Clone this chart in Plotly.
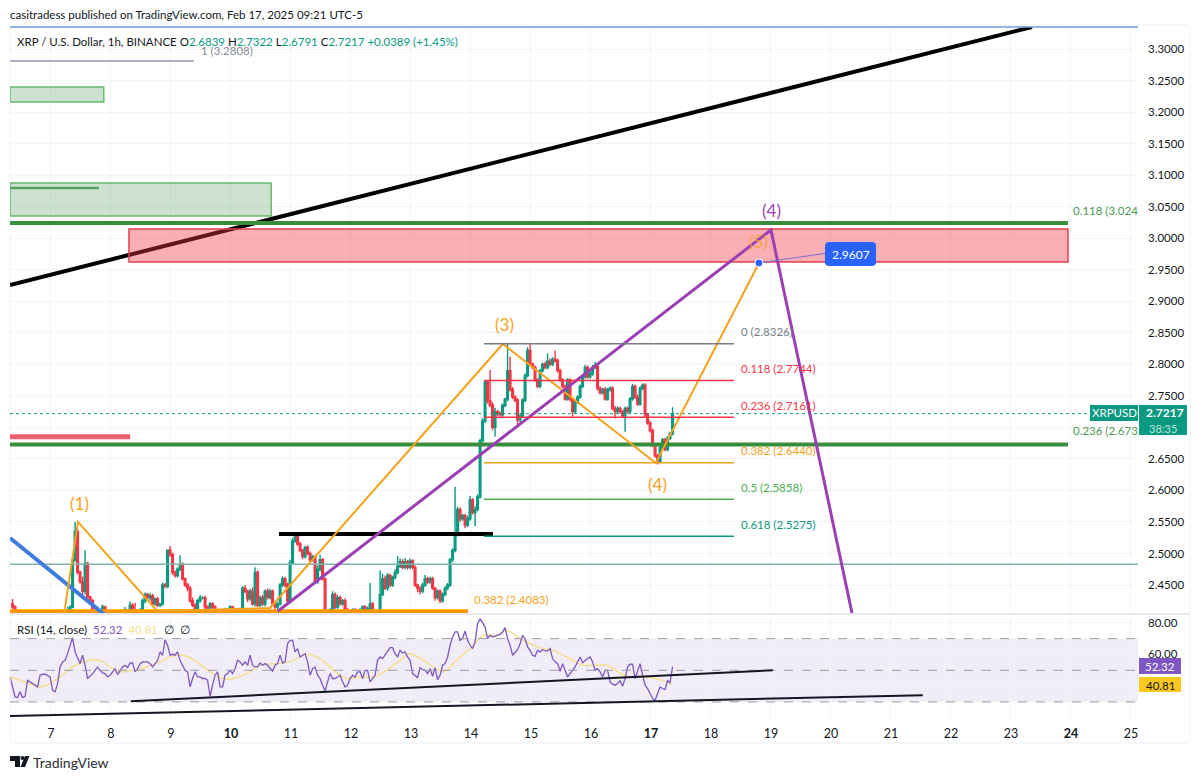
import plotly.graph_objects as go

# hourly XRPUSD candles, newest bar sits at day 17.36
last_bar_day = 17.36
first_open = 2.420
candle_close = [
    2.415, 2.408, 2.395, 2.385, 2.370, 2.375, 2.360, 2.365, 2.350, 2.360,
    2.355, 2.370, 2.365, 2.380, 2.375, 2.390, 2.380, 2.385, 2.390, 2.395,
    2.390, 2.400, 2.410, 2.415, 2.490, 2.535, 2.470, 2.455, 2.440, 2.484,
    2.431, 2.425, 2.405, 2.390, 2.395, 2.405, 2.415, 2.400, 2.390, 2.385,
    2.380, 2.390, 2.385, 2.375, 2.395, 2.410, 2.405, 2.418, 2.410, 2.402,
    2.405, 2.410, 2.425, 2.435, 2.430, 2.433, 2.420, 2.428, 2.418, 2.420,
    2.450, 2.448, 2.505, 2.498, 2.470, 2.465, 2.475, 2.483, 2.460, 2.450,
    2.445, 2.425, 2.418, 2.405, 2.425, 2.430, 2.430, 2.415, 2.410, 2.420,
    2.415, 2.402, 2.395, 2.400, 2.395, 2.410, 2.405, 2.415, 2.405, 2.410,
    2.402, 2.410, 2.445, 2.440, 2.428, 2.440, 2.420, 2.470, 2.418, 2.430,
    2.420, 2.440, 2.430, 2.440, 2.420, 2.415, 2.420, 2.450, 2.460, 2.450,
    2.425, 2.485, 2.520, 2.530, 2.515, 2.505, 2.495, 2.510, 2.500, 2.490,
    2.495, 2.455, 2.475, 2.490, 2.460, 2.400, 2.390, 2.410, 2.435, 2.415,
    2.430, 2.420, 2.425, 2.410, 2.405, 2.402, 2.410, 2.405, 2.402, 2.410,
    2.415, 2.405, 2.412, 2.420, 2.405, 2.400, 2.405, 2.435, 2.460, 2.445,
    2.465, 2.450, 2.462, 2.470, 2.480, 2.487, 2.478, 2.487, 2.478, 2.488,
    2.478, 2.450, 2.445, 2.440, 2.450, 2.460, 2.455, 2.460, 2.445, 2.430,
    2.440, 2.425, 2.435, 2.445, 2.450, 2.490, 2.505, 2.530, 2.570, 2.555,
    2.560, 2.545, 2.555, 2.585, 2.565, 2.570, 2.590, 2.679, 2.710, 2.772,
    2.742, 2.735, 2.700, 2.725, 2.722, 2.720, 2.735, 2.745, 2.790, 2.760,
    2.748, 2.743, 2.712, 2.718, 2.743, 2.782, 2.822, 2.800, 2.795, 2.775,
    2.765, 2.790, 2.800, 2.795, 2.805, 2.800, 2.808, 2.806, 2.790, 2.775,
    2.765, 2.745, 2.775, 2.745, 2.725, 2.740, 2.748, 2.765, 2.780, 2.795,
    2.780, 2.785, 2.795, 2.797, 2.762, 2.755, 2.760, 2.745, 2.760, 2.762,
    2.730, 2.725, 2.730, 2.725, 2.718, 2.730, 2.725, 2.745, 2.765, 2.748,
    2.737, 2.762, 2.767, 2.720, 2.707, 2.695, 2.672, 2.655, 2.646, 2.668,
    2.680, 2.665, 2.683, 2.690, 2.7217,
]
# wick lengths above / below the body, in thousandths of a dollar
wick_up = [
    8, 3, 2, 2, 3, 2, 2, 3, 2, 3,
    2, 3, 4, 2, 3, 2, 3, 2, 2, 3,
    3, 2, 5, 3, 3, 15, 4, 3, 8, 21,
    3, 2, 3, 2, 3, 2, 4, 2, 3, 2,
    2, 3, 2, 3, 4, 5, 2, 6, 3, 12,
    3, 3, 4, 3, 2, 4, 3, 2, 3, 2,
    4, 3, 0, 7, 3, 3, 3, 14, 3, 2,
    3, 3, 5, 3, 3, 4, 2, 3, 3, 3,
    3, 3, 2, 3, 10, 4, 3, 3, 2, 4,
    3, 4, 3, 5, 3, 4, 6, 8, 3, 3,
    4, 3, 5, 4, 3, 3, 4, 3, 4, 3,
    4, 5, 4, 3, 3, 3, 2, 2, 3, 3,
    3, 3, 6, 8, 3, 2, 3, 3, 5, 3,
    4, 3, 3, 4, 4, 3, 3, 4, 3, 3,
    3, 3, 4, 33, 3, 3, 4, 38, 8, 5,
    4, 3, 3, 5, 16, 5, 4, 6, 3, 4,
    3, 3, 2, 3, 4, 6, 3, 3, 3, 2,
    3, 3, 3, 3, 3, 3, 3, 76, 4, 3,
    3, 3, 5, 6, 3, 5, 4, 3, 4, 3,
    3, 49, 5, 6, 3, 3, 3, 2, 43, 22,
    4, 3, 3, 4, 3, 4, 5, 11, 3, 3,
    3, 3, 3, 4, 12, 4, 3, 14, 3, 3,
    3, 3, 3, 3, 3, 3, 3, 3, 3, 4,
    3, 4, 4, 7, 3, 3, 3, 4, 3, 3,
    3, 4, 3, 3, 3, 3, 3, 3, 4, 3,
    4, 3, 3, 3, 3, 3, 3, 3, 3, 3,
    3, 3, 3, 3, 10,
]
wick_down = [
    3, 3, 3, 3, 2, 3, 3, 2, 3, 2,
    3, 2, 2, 3, 2, 3, 2, 3, 3, 2,
    3, 3, 3, 4, 2, 3, 3, 3, 8, 5,
    3, 3, 6, 3, 3, 3, 3, 2, 3, 3,
    3, 2, 3, 3, 3, 3, 3, 3, 3, 3,
    3, 3, 3, 4, 3, 5, 3, 3, 3, 3,
    3, 3, 3, 3, 4, 3, 3, 3, 3, 3,
    5, 3, 3, 3, 3, 3, 3, 3, 3, 3,
    3, 2, 3, 3, 4, 3, 3, 2, 3, 3,
    3, 4, 3, 3, 5, 3, 3, 4, 3, 3,
    3, 4, 3, 3, 3, 4, 3, 3, 3, 4,
    3, 4, 3, 3, 3, 3, 4, 3, 3, 3,
    3, 4, 3, 3, 3, 3, 3, 4, 3, 3,
    3, 3, 3, 3, 4, 3, 3, 3, 3, 3,
    3, 3, 3, 3, 3, 4, 3, 3, 3, 3,
    4, 3, 3, 3, 3, 3, 3, 3, 4, 3,
    3, 3, 6, 5, 3, 3, 4, 3, 3, 5,
    3, 4, 3, 3, 3, 3, 3, 3, 3, 5,
    3, 5, 3, 3, 3, 22, 3, 3, 3, 3,
    4, 3, 5, 15, 4, 3, 3, 3, 4, 3,
    3, 3, 11, 4, 3, 3, 3, 3, 3, 3,
    3, 3, 3, 3, 3, 3, 3, 3, 3, 3,
    3, 3, 3, 4, 8, 3, 3, 3, 3, 3,
    3, 3, 3, 3, 4, 3, 3, 3, 3, 3,
    3, 11, 3, 3, 3, 25, 3, 3, 3, 3,
    3, 3, 3, 4, 3, 3, 3, 3, 5, 3,
    3, 3, 3, 3, 3,
]

# RSI(14) line, one reading per hour
rsi_values = [
    45.8, 38.5, 33.2, 32.8, 36.4, 32.8, 33.6, 43.7, 42.7, 41.6, 40.6, 39.5, 46.9, 47.5, 47.5,
    46.9, 45.8, 37.4, 36.4, 41.6, 52.1, 55.3, 56.3, 60.5, 65.8, 70.6, 61.6, 58.4, 54.2, 59.5,
    53.2, 44.8, 46.2, 47.9, 50.0, 52.1, 50.0, 48.3, 47.9, 45.8, 46.9, 49.0, 51.0, 47.3, 50.0,
    52.1, 53.2, 51.7, 54.6, 54.6, 49.0, 51.0, 54.2, 55.3, 55.3, 55.3, 54.2, 52.1, 54.2, 56.3,
    61.6, 59.5, 69.3, 65.8, 59.5, 60.1, 59.5, 61.6, 56.3, 53.2, 50.0, 49.0, 39.5, 44.8, 49.0,
    45.8, 45.8, 44.8, 44.8, 43.7, 33.6, 40.6, 46.9, 49.0, 39.5, 39.5, 46.9, 47.9, 50.0, 47.9,
    51.0, 56.3, 55.3, 53.2, 55.3, 53.2, 59.5, 53.2, 52.1, 52.1, 54.6, 53.2, 54.2, 53.2, 51.0,
    49.4, 53.2, 54.2, 59.5, 54.6, 55.3, 66.8, 68.9, 68.9, 61.6, 63.7, 58.4, 59.5, 60.5, 55.3,
    46.9, 51.0, 52.1, 46.9, 44.8, 40.6, 36.8, 42.7, 47.9, 44.8, 44.8, 45.8, 46.9, 42.7, 39.5,
    40.6, 44.8, 46.9, 45.8, 49.0, 49.0, 44.8, 50.0, 50.0, 42.7, 44.8, 46.9, 56.3, 58.4, 57.4,
    59.5, 61.6, 64.3, 64.3, 60.5, 58.4,
    62.6, 60.9, 61.6, 58.4, 56.3, 47.9, 46.9, 45.4, 51.7, 50.4, 50.0, 47.9, 51.0, 46.2, 51.7,
    44.1, 46.9, 53.2, 54.2, 58.4, 65.8, 71.0, 74.2, 74.2, 68.9, 70.0, 74.8, 68.9, 65.8, 63.7,
    67.9, 79.4, 82.6, 79.8, 77.3, 70.0, 72.0, 71.0, 71.4, 72.0, 72.7, 74.2, 76.9, 70.0, 65.8,
    59.5, 61.6, 63.0, 66.8, 72.0, 70.0, 64.7, 62.6, 59.5, 58.8, 62.6, 61.6, 63.0, 62.2, 62.2,
    63.7, 57.4, 55.3, 54.2, 49.4, 54.2, 50.0, 45.8, 47.9, 50.0, 52.1, 55.3, 58.4, 54.8, 56.3,
    57.4, 58.4, 55.3, 50.0, 51.0, 49.0, 45.8, 50.0, 50.0, 42.7, 41.2, 40.6, 41.6, 43.3, 39.9,
    44.8, 52.1, 53.8, 53.8, 44.8, 50.0, 54.2, 46.9, 40.6, 38.5, 35.3, 32.2, 31.1, 35.3, 39.5,
    38.5, 37.8, 43.7, 42.0, 52.32,
]
rsi_ma_days = [
    6.33, 6.48, 6.65, 6.82, 6.98, 7.15, 7.32, 7.48, 7.65, 7.82, 7.98, 8.15, 8.37, 8.59, 8.82, 8.98, 9.21,
    9.43, 9.65, 9.87, 10.04, 10.26, 10.48, 10.76, 10.98, 11.26, 11.48, 11.71, 11.93, 12.15, 12.37, 12.59, 12.82,
    12.98, 13.21, 13.54, 13.76, 14.01, 14.21, 14.43, 14.59, 14.87, 15.15, 15.37, 15.59, 15.87, 16.26, 16.59,
    16.93, 17.15, 17.36,
]
rsi_ma_values = [
    45.8, 43.7, 41.6, 39.5, 41.6, 45.8, 51.0, 54.6, 56.3, 56.3, 52.1, 49.0, 50.0, 52.1, 55.3, 58.4, 59.5,
    55.3, 49.0, 44.8, 44.8, 47.9, 53.2, 54.2, 55.3, 60.1, 57.4, 50.0, 44.8, 45.8, 45.8, 50.0, 56.3,
    60.5, 56.3, 49.0, 56.3, 64.7, 72.0, 72.0, 75.2, 68.9, 64.3, 62.6, 58.4, 53.2, 53.2, 46.2,
    45.8, 44.1, 40.81,
]

day_ticks = [7, 8, 9, 10, 11, 12, 13, 14, 15, 16, 17, 18, 19, 20, 21, 22, 23, 24, 25]
day_labels = ["7", "8", "9", "<b>10</b>", "11", "12", "13", "14", "15", "16", "<b>17</b>", "18", "19",
              "20", "21", "22", "23", "<b>24</b>", "25"]
price_ticks = [2.45, 2.50, 2.55, 2.60, 2.65, 2.70, 2.75, 2.80, 2.85, 2.90, 2.95,
               3.00, 3.05, 3.10, 3.15, 3.20, 3.25, 3.30]
rsi_ticks = [40, 60, 80]

# fib retracement drawn on the last swing
fib_prices = [2.8326, 2.7744, 2.7161, 2.6440, 2.5858, 2.5275]
fib_labels = ["0 (2.8326)", "0.118 (2.7744)", "0.236 (2.7161)", "0.382 (2.6440)", "0.5 (2.5858)", "0.618 (2.5275)"]
fib_colors = ["#787B86", "#F23645", "#F23645", "#F7A21B", "#4CAF50", "#089981"]

# wave drawings, day / price
orange_days = [7.22, 7.45, 8.77, 10.65, 14.53, 17.08, 18.80]
orange_prices = [2.4056, 2.55, 2.4088, 2.4135, 2.8322, 2.6435, 2.9607]
purple_days = [10.78, 19.0, 20.35]
purple_prices = [2.4083, 3.013, 2.4056]

GREEN = "#089981"
RED = "#F23645"
ORANGE = "#F7A21B"
FONT = "Lato"

# picture pixels to paper units, for things that live outside the axes
def px_x(x):
    return (x - 10) / 1128

def px_y(y):
    return (720 - y) / 693

def frame_line(x0, y0, x1, y1, color, width=1):
    return dict(type="line", xref="paper", yref="paper", x0=px_x(x0), x1=px_x(x1), y0=px_y(y0), y1=px_y(y1),
                line=dict(color=color, width=width))

def frame_rect(x0, y0, x1, y1, color):
    return dict(type="rect", xref="paper", yref="paper", x0=px_x(x0), x1=px_x(x1), y0=px_y(y0), y1=px_y(y1),
                fillcolor=color, line=dict(width=0))

def rounded_box(x0, y0, x1, y1, r, color):
    p = (f"M {px_x(x0 + r)} {px_y(y0)} L {px_x(x1 - r)} {px_y(y0)} Q {px_x(x1)} {px_y(y0)} {px_x(x1)} {px_y(y0 + r)} "
         f"L {px_x(x1)} {px_y(y1 - r)} Q {px_x(x1)} {px_y(y1)} {px_x(x1 - r)} {px_y(y1)} "
         f"L {px_x(x0 + r)} {px_y(y1)} Q {px_x(x0)} {px_y(y1)} {px_x(x0)} {px_y(y1 - r)} "
         f"L {px_x(x0)} {px_y(y0 + r)} Q {px_x(x0)} {px_y(y0)} {px_x(x0 + r)} {px_y(y0)} Z")
    return dict(type="path", xref="paper", yref="paper", path=p, fillcolor=color, line=dict(width=0))

def data_line(d0, p0, d1, p1, color, width, yref="y", dash="solid"):
    return dict(type="line", xref="x", yref=yref, x0=d0, x1=d1, y0=p0, y1=p1,
                line=dict(color=color, width=width, dash=dash))

def data_box(d0, p0, d1, p1, fill, edge, width=1.5):
    return dict(type="rect", xref="x", yref="y", x0=d0, x1=d1, y0=p0, y1=p1,
                fillcolor=fill, line=dict(color=edge, width=width))

def polyline(days, prices, color, width):
    p = "M " + " L ".join(f"{d} {v}" for d, v in zip(days, prices))
    return dict(type="path", xref="x", yref="y", path=p, line=dict(color=color, width=width))

def label(x, y, text, color="#131722", size=11.5, anchor="left"):
    return dict(xref="paper", yref="paper", x=px_x(x), y=px_y(y), text=text, showarrow=False,
                xanchor=anchor, yanchor="middle", align="left", borderpad=0, borderwidth=0,
                font=dict(family=FONT, size=size, color=color))

candle_open = [first_open] + candle_close[:-1]
candle_high = [max(o, c) + w / 1000 for o, c, w in zip(candle_open, candle_close, wick_up)]
candle_low = [min(o, c) - w / 1000 for o, c, w in zip(candle_open, candle_close, wick_down)]
candle_days = [last_bar_day - (len(candle_close) - 1 - i) / 24 for i in range(len(candle_close))]
rsi_days = [last_bar_day - (len(rsi_values) - 1 - i) / 24 for i in range(len(rsi_values))]

fig = go.Figure()
fig.add_trace(go.Candlestick(x=candle_days, open=candle_open, high=candle_high, low=candle_low, close=candle_close,
                             increasing=dict(line=dict(color=GREEN, width=1.4), fillcolor=GREEN),
                             decreasing=dict(line=dict(color=RED, width=1.4), fillcolor=RED),
                             whiskerwidth=0, showlegend=False, xaxis="x", yaxis="y"))
fig.add_trace(go.Scatter(x=rsi_ma_days, y=rsi_ma_values, mode="lines", line=dict(color="#F5DF8E", width=1.5, shape="spline"),
                         showlegend=False, xaxis="x", yaxis="y2"))
fig.add_trace(go.Scatter(x=rsi_days, y=rsi_values, mode="lines", line=dict(color="#7E57C2", width=1.3),
                         showlegend=False, xaxis="x", yaxis="y2"))

shapes = [
    # frame and panel separators
    frame_line(10, 25, 1190, 25, "#F0F2F6"),
    frame_line(1190, 25, 1190, 743, "#F0F2F6"),
    frame_line(10, 743, 1190, 743, "#F0F2F6"),
    frame_line(10, 27, 10, 743, "#F0F2F6"),
    frame_line(10, 614, 1190, 614, "#E6E8EE", 2),
    # rsi band
    dict(type="rect", xref="x", yref="y2", x0=6.317, x1=25.117, y0=30, y1=70, fillcolor="rgba(126,87,194,0.11)",
         line=dict(width=0), layer="below"),
    data_line(6.317, 70, 25.117, 70, "#9A9CA5", 1, "y2", "dash"),
    data_line(6.317, 50, 25.117, 50, "#9A9CA5", 1, "y2", "dash"),
    data_line(6.317, 30, 25.117, 30, "#9A9CA5", 1, "y2", "dash"),
    data_line(8.33, 30.5, 19.03, 50, "#131722", 2, "y2"),
    data_line(6.317, 21.1, 21.53, 34.3, "#131722", 2, "y2"),
    # zones on the left
    data_box(6.317, 3.2397, 7.88, 3.2160, "rgba(76,150,80,0.28)", "#66BB6A"),
    data_box(6.317, 3.0875, 10.67, 3.0352, "rgba(76,150,80,0.28)", "#66BB6A"),
    data_line(6.317, 3.0796, 7.80, 3.0796, "#5E9C62", 2.5),
    data_line(6.317, 3.2808, 9.38, 3.2808, "#9C95B8", 1.5),
    # trendline, then the red zone on top of it
    data_line(6.317, 2.9258, 23.35, 3.3349, "#000000", 4),
    data_box(8.30, 3.0146, 23.95, 2.9622, "rgba(242,54,69,0.40)", "#E0404F"),
    data_line(6.317, 3.024, 23.95, 3.024, "#388E3C", 4),
    data_line(6.317, 2.673, 23.95, 2.673, "#388E3C", 4),
    data_line(6.317, 2.685, 8.32, 2.685, "#F0606C", 5),
    data_line(6.317, 2.4083, 13.95, 2.4083, "#FF9800", 4),
    data_line(10.80, 2.5309, 14.367, 2.5309, "#000000", 4),
    data_line(6.317, 2.4828, 25.117, 2.4828, "#7FB5B0", 1.5),
    data_line(6.317, 2.5246, 7.90, 2.4025, "#3F7CE0", 4),
    # last price
    data_line(6.317, 2.7217, 25.117, 2.7217, GREEN, 1, "y", "dot"),
    # wave paths
    polyline(orange_days, orange_prices, ORANGE, 2),
    polyline(purple_days, purple_prices, "#9C3FB5", 3),
]
for price, color in zip(fib_prices, fib_colors):
    shapes.append(data_line(14.217, price, 18.383, price, color, 1.5))

# callout on the 2.9607 target
shapes += [
    frame_line(759, 263, 828, 253, "#7C6FD0", 1),
    dict(type="circle", xref="x", yref="y", xsizemode="pixel", ysizemode="pixel", xanchor=18.80, yanchor=2.9607,
         x0=-4, x1=4, y0=-4, y1=4, fillcolor="#2962FF", line=dict(color="#FFFFFF", width=1)),
    rounded_box(825, 242, 876, 266, 4, "#2962FF"),
    # axis tags
    frame_rect(1090, 405, 1138, 421, GREEN),
    frame_rect(1139, 405, 1187, 435, GREEN),
    frame_rect(1139, 658, 1181, 674, "#7E57C2"),
    frame_rect(1139, 677, 1181, 692, "#FBC91E"),
    # blue top line
    frame_line(10, 27, 1138, 27, "#6C9BE0", 1.5),
    # TradingView logo
    dict(type="path", xref="paper", yref="paper", fillcolor="#131722", line=dict(width=0),
         path=f"M {px_x(10)} {px_y(756)} L {px_x(20)} {px_y(756)} L {px_x(20)} {px_y(767)} L {px_x(15)} {px_y(767)} "
              f"L {px_x(15)} {px_y(761)} L {px_x(10)} {px_y(761)} Z"),
    dict(type="circle", xref="paper", yref="paper", fillcolor="#131722", line=dict(width=0),
         x0=px_x(20.5), x1=px_x(24.5), y0=px_y(760), y1=px_y(756)),
    dict(type="path", xref="paper", yref="paper", fillcolor="#131722", line=dict(width=0),
         path=f"M {px_x(25)} {px_y(756)} L {px_x(29.5)} {px_y(756)} L {px_x(25)} {px_y(767)} L {px_x(20.5)} {px_y(767)} Z"),
]

ohlc_green = "#089981"
annotations = [
    label(10, 15, "casitradess published on TradingView.com, Feb 17, 2025 09:21 UTC-5"),
    label(17, 41, "XRP / U.S. Dollar, 1h, BINANCE O"
                  f"<span style='color:{ohlc_green}'>2.6839</span> H<span style='color:{ohlc_green}'>2.7322</span> "
                  f"L<span style='color:{ohlc_green}'>2.6791</span> C<span style='color:{ohlc_green}'>2.7217</span> "
                  f"<span style='color:{ohlc_green}'>+0.0389 (+1.45%)</span>"),
    label(201, 50, "1 (3.2808)", "#8A8D96"),
    label(1073, 211, "0.118 (3.024", "#4C9A50"),
    label(1073, 431, "0.236 (2.673", "#4C9A50"),
    label(474, 599, "0.382 (2.4083)", ORANGE),
    label(79, 503, "(1)", ORANGE, 17, "center"),
    label(504, 325, "(3)", ORANGE, 17, "center"),
    label(657, 484, "(4)", ORANGE, 17, "center"),
    label(758, 241, "(5)", "rgba(247,162,27,0.8)", 17, "center"),
    label(771, 210, "(4)", "#9C3FB5", 17, "center"),
    label(850.5, 254, "2.9607", "#FFFFFF", 12, "center"),
    label(1114, 413, "XRPUSD", "#FFFFFF", 11.5, "center"),
    label(1165, 413, "<b>2.7217</b>", "#FFFFFF", 12, "center"),
    label(1163, 428, "38:35", "#BFE6DF", 11, "center"),
    label(1160, 666, "52.32", "#FFFFFF", 11.5, "center"),
    label(1160, 685, "40.81", "#131722", 11.5, "center"),
    label(17, 629, "RSI (14, close)  <span style='color:#7E57C2'>52.32</span>  "
                   "<span style='color:#F5DF8E'>40.81</span>  ∅  ∅"),
    label(33, 762, "TradingView", "#2A2E39", 14),
]
for price, text, color in zip(fib_prices, fib_labels, fib_colors):
    annotations.append(dict(xref="x", yref="y", x=18.383, y=price, text=text, showarrow=False, xanchor="left",
                            yanchor="middle", xshift=7, yshift=12, borderpad=0, borderwidth=0,
                            font=dict(family=FONT, size=11.5, color=color)))

fig.update_layout(
    width=1200, height=778,
    margin=dict(l=10, r=62, t=27, b=58),
    paper_bgcolor="#FFFFFF", plot_bgcolor="#FFFFFF",
    showlegend=False, hovermode=False, boxgap=0.05,
    font=dict(family=FONT, size=12, color="#131722"),
    xaxis=dict(domain=[0, 1], anchor="y2", range=[6.317, 25.117], tickvals=day_ticks, ticktext=day_labels,
               showgrid=True, gridcolor="#F2F4F8", zeroline=False, showline=False, ticks="",
               rangeslider=dict(visible=False), tickfont=dict(size=12.5, color="#131722"), ticklabelstandoff=4),
    yaxis=dict(domain=[0.1544, 1], anchor="x", side="right", range=[2.4056, 3.3349], tickvals=price_ticks,
               ticktext=[f"{t:.4f}" for t in price_ticks], showgrid=True, gridcolor="#F2F4F8", zeroline=False,
               showline=False, ticks="", ticklabelstandoff=9, tickfont=dict(size=11.5, color="#131722")),
    yaxis2=dict(domain=[0, 0.1501], anchor="x", side="right", range=[18.6, 84.3], tickvals=rsi_ticks,
                ticktext=[f"{t:.2f}" for t in rsi_ticks], showgrid=True, gridcolor="#F2F4F8", zeroline=False,
                showline=False, ticks="", ticklabelstandoff=9, tickfont=dict(size=11.5, color="#131722")),
    shapes=shapes,
    annotations=annotations,
)

fig.write_html("out.html", config={"displayModeBar": False}, post_script="document.body.style.margin='0';")
